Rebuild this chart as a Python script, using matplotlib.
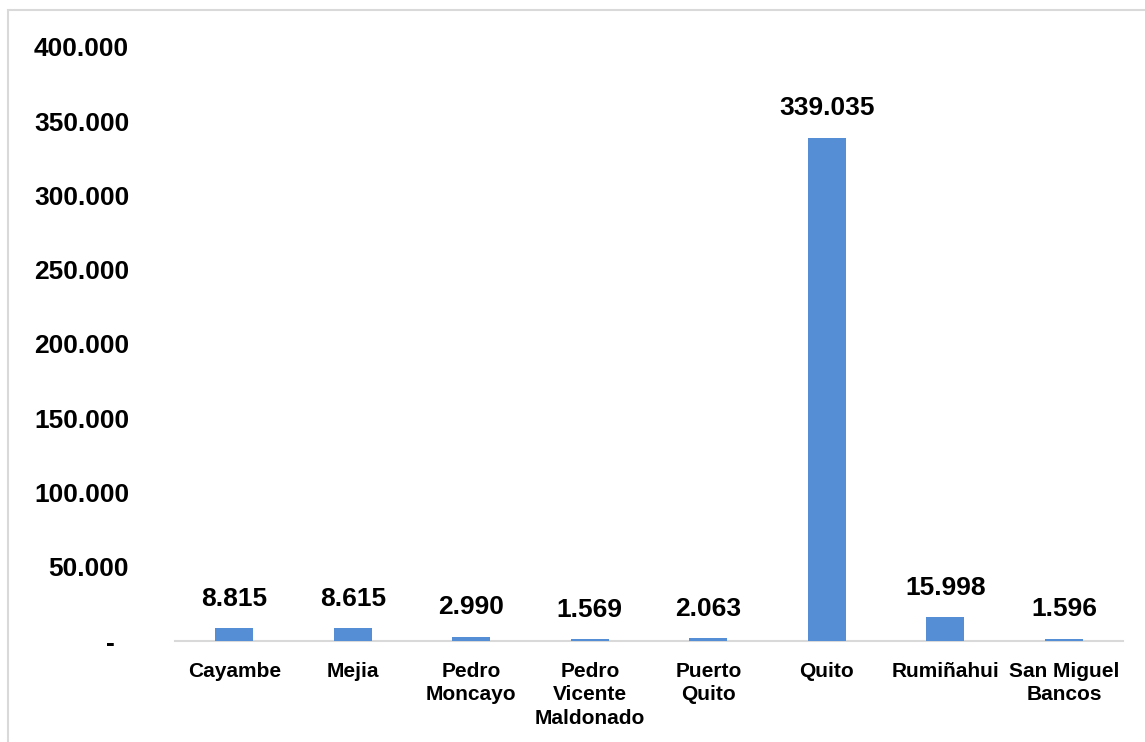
import matplotlib
matplotlib.use('agg')
import matplotlib.pyplot as plt
from matplotlib.patches import Rectangle
from matplotlib.ticker import FuncFormatter

cantones = ['Cayambe', 'Mejia', 'Pedro\nMoncayo', 'Pedro\nVicente\nMaldonado',
            'Puerto\nQuito', 'Quito', 'Rumiñahui', 'San Miguel\nBancos']
valores = [8815, 8615, 2990, 1569, 2063, 339035, 15998, 1596]
y_ticks = [0, 50000, 100000, 150000, 200000, 250000, 300000, 350000, 400000]

plt.rcParams['font.family'] = ['Liberation Sans', 'DejaVu Sans']
plt.rcParams['font.weight'] = 'bold'


def miles(v, pos=None):
    if v == 0:
        return '-  '
    return f'{v:,.0f}'.replace(',', '.')


fig = plt.figure(figsize=(11.45, 7.42), dpi=100)
ax = fig.add_axes([0.1528, 0.1361, 0.8282, 0.8006])

x = range(len(cantones))
bars = ax.bar(x, valores, width=0.32, color='#558ED5', zorder=3)

for b, v in zip(bars, valores):
    ax.annotate(miles(v), (b.get_x() + b.get_width() / 2, v),
                xytext=(0, 21), textcoords='offset points',
                ha='center', va='center', fontsize=19, fontweight='bold')

ax.set_xlim(-0.5, len(cantones) - 0.5)
ax.set_ylim(0, 400000)
ax.set_yticks(y_ticks)
ax.yaxis.set_major_formatter(FuncFormatter(miles))
ax.set_xticks(list(x))
ax.set_xticklabels(cantones, fontsize=15, fontweight='bold', linespacing=1.3)

for lab in ax.get_yticklabels():
    lab.set_fontsize(19)
    lab.set_fontweight('bold')

ax.tick_params(axis='y', length=0, pad=33)
ax.tick_params(axis='x', length=0, pad=15)
for s in ['top', 'right', 'left']:
    ax.spines[s].set_visible(False)
ax.spines['bottom'].set_color('#D9D9D9')
ax.spines['bottom'].set_linewidth(1.5)

# marco gris del grafico
fig.patches.append(Rectangle((8 / 1145, -0.1), 1.2, 1.1 - 10 / 742,
                             transform=fig.transFigure, fill=False,
                             edgecolor='#D9D9D9', linewidth=1.5))

plt.savefig('out.png', dpi=100)
plt.close()
